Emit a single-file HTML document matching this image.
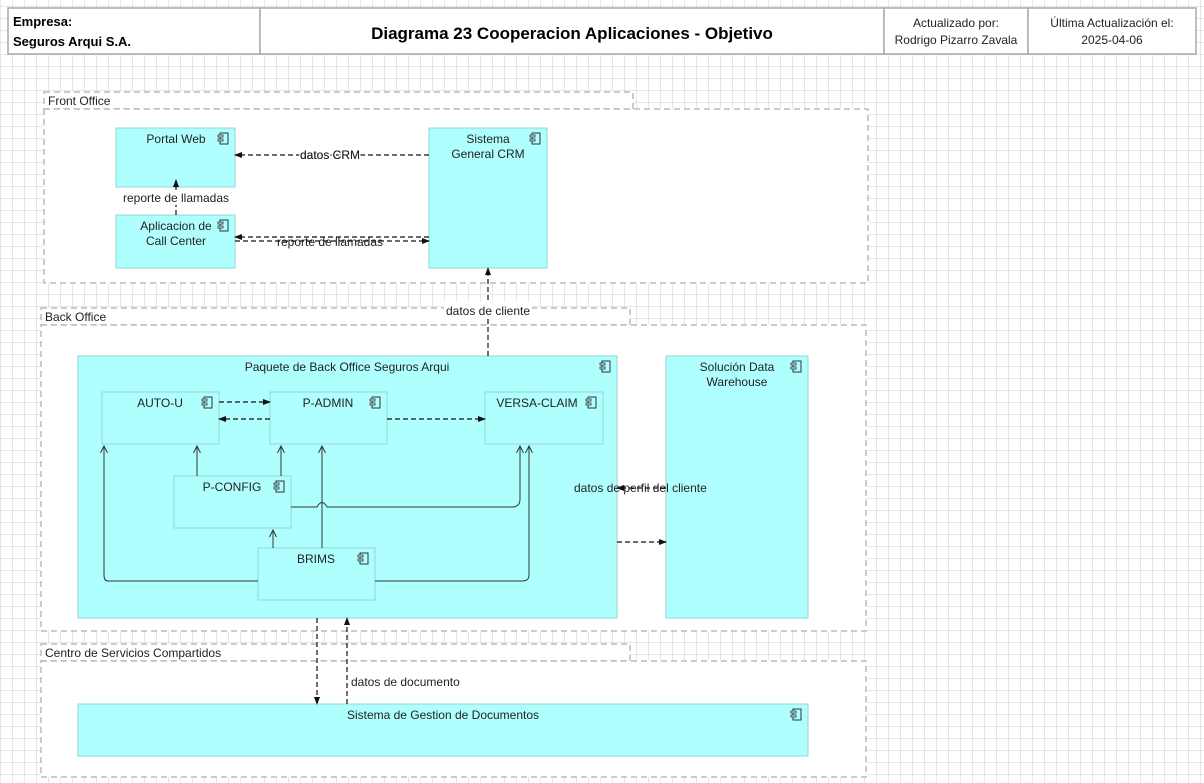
<!DOCTYPE html>
<html><head><meta charset="utf-8"><style>
html,body{margin:0;padding:0;background:#fff}
svg{display:block}
text{font-family:"Liberation Sans",sans-serif;font-size:12px;fill:#222}
</style></head><body>
<svg width="1204" height="783" xmlns="http://www.w3.org/2000/svg">
<defs>
<pattern id="g" x="0.5" y="6.5" width="12" height="12" patternUnits="userSpaceOnUse">
<path d="M0 0H12M0 0V12" stroke="#cfcfcf" stroke-width="1" fill="none"/>
</pattern>
<marker id="a" markerWidth="8" markerHeight="8" refX="7" refY="4" orient="auto" markerUnits="userSpaceOnUse"><path d="M0,1 L8,4 L0,7z" fill="#111"/></marker>
<marker id="o" markerWidth="8" markerHeight="8" refX="7" refY="4" orient="auto" markerUnits="userSpaceOnUse"><path d="M0,0.5 L7,4 L0,7.5" fill="none" stroke="#333"/></marker>
<g id="ic"><rect x="2" y="0" width="8" height="11" fill="none" stroke="#333"/><rect x="0" y="2" width="5" height="2" fill="#b0ffff" stroke="#333" stroke-width=".8"/><rect x="0" y="6" width="5" height="2" fill="#b0ffff" stroke="#333" stroke-width=".8"/></g>
</defs>
<rect width="1204" height="783" fill="url(#g)"/>
<!-- header -->
<g fill="#fff" stroke="#aaa" stroke-width="1.5">
<rect x="8" y="8" width="252" height="46"/><rect x="260" y="8" width="624" height="46"/>
<rect x="884" y="8" width="144" height="46"/><rect x="1028" y="8" width="168" height="46"/>
</g>
<text x="13" y="26" style="font-weight:bold;font-size:13px;fill:#000">Empresa:</text>
<text x="13" y="46" style="font-weight:bold;font-size:13px;fill:#000">Seguros Arqui S.A.</text>
<text x="572" y="39" text-anchor="middle" style="font-weight:bold;font-size:17px;fill:#000">Diagrama 23 Cooperacion Aplicaciones - Objetivo</text>
<text x="956" y="27" text-anchor="middle">Actualizado por:</text>
<text x="956" y="44" text-anchor="middle">Rodrigo Pizarro Zavala</text>
<text x="1112" y="27" text-anchor="middle">Última Actualización el:</text>
<text x="1112" y="44" text-anchor="middle">2025-04-06</text>
<!-- groups -->
<g fill="#fff" stroke="#bbb" stroke-width="1.5" stroke-dasharray="6,4">
<rect x="44" y="92" width="589" height="17"/><rect x="44" y="109" width="824" height="174"/>
<rect x="41" y="308" width="589" height="17"/><rect x="41" y="325" width="825" height="306"/>
<rect x="41" y="644" width="589" height="17"/><rect x="41" y="661" width="825" height="116"/>
</g>
<text x="48" y="105">Front Office</text>
<text x="45" y="321">Back Office</text>
<text x="45" y="657">Centro de Servicios Compartidos</text>
<!-- nodes -->
<g fill="#b0ffff" stroke="#8fd6d6" stroke-width="1">
<rect x="116" y="128" width="119" height="59"/><rect x="116" y="215" width="119" height="53"/>
<rect x="429" y="128" width="118" height="140"/>
<rect x="78" y="356" width="539" height="262"/>
<rect x="666" y="356" width="142" height="262"/>
<rect x="78" y="704" width="730" height="52"/>
<rect x="102" y="392" width="117" height="52"/><rect x="270" y="392" width="117" height="52"/>
<rect x="485" y="392" width="118" height="52"/><rect x="174" y="476" width="117" height="52"/>
<rect x="258" y="548" width="117" height="52"/>
</g>
<use href="#ic" x="218" y="133"/><use href="#ic" x="218" y="220"/><use href="#ic" x="530" y="133"/>
<use href="#ic" x="600" y="361"/><use href="#ic" x="791" y="361"/><use href="#ic" x="791" y="709"/>
<use href="#ic" x="202" y="397"/><use href="#ic" x="370" y="397"/><use href="#ic" x="586" y="397"/>
<use href="#ic" x="274" y="481"/><use href="#ic" x="358" y="553"/>
<g text-anchor="middle">
<text x="176" y="143">Portal Web</text>
<text x="176" y="230">Aplicacion de</text><text x="176" y="245">Call Center</text>
<text x="488" y="143">Sistema</text><text x="488" y="158">General CRM</text>
<text x="347" y="371">Paquete de Back Office Seguros Arqui</text>
<text x="737" y="371">Solución Data</text><text x="737" y="386">Warehouse</text>
<text x="443" y="719">Sistema de Gestion de Documentos</text>
<text x="160" y="407">AUTO-U</text><text x="328" y="407">P-ADMIN</text><text x="537" y="407">VERSA-CLAIM</text>
<text x="232" y="491">P-CONFIG</text><text x="316" y="563">BRIMS</text>
</g>
<!-- dashed flows -->
<g stroke="#111" stroke-width="1.2" fill="none" stroke-dasharray="5,3">
<path d="M429 155H235" marker-end="url(#a)"/>
<path d="M176 215V180" marker-end="url(#a)"/>
<path d="M429 237H235" marker-end="url(#a)"/>
<path d="M235 241H429" marker-end="url(#a)"/>
<path d="M488 356V268" marker-end="url(#a)"/>
<path d="M219 402H270" marker-end="url(#a)"/>
<path d="M270 419H219" marker-end="url(#a)"/>
<path d="M387 419H485" marker-end="url(#a)"/>
<path d="M666 488H617" marker-end="url(#a)"/>
<path d="M617 542H666" marker-end="url(#a)"/>
<path d="M317 618V704" marker-end="url(#a)"/>
<path d="M347 704V618" marker-end="url(#a)"/>
</g>
<!-- solid flows -->
<g stroke="#333" stroke-width="1" fill="none">
<path d="M197 476V446" marker-end="url(#o)"/>
<path d="M281 476V446" marker-end="url(#o)"/>
<path d="M322 548V446" marker-end="url(#o)"/>
<path d="M273 548V530" marker-end="url(#o)"/>
<path d="M291 507H317Q322 498 327 507H512Q520 507 520 499V446" marker-end="url(#o)"/>
<path d="M258 581H108Q104 581 104 575V446" marker-end="url(#o)"/>
<path d="M375 581H522Q529 581 529 575V446" marker-end="url(#o)"/>
</g>
<g style="paint-order:stroke" stroke="#fff" stroke-width="3">
<text x="330" y="159" text-anchor="middle" stroke="#fff">datos CRM</text>
</g>
<text x="330" y="159" text-anchor="middle">datos CRM</text>
<rect x="120" y="190" width="110" height="15" fill="#fff"/>
<text x="176" y="202" text-anchor="middle">reporte de llamadas</text>
<text x="330" y="246" text-anchor="middle">reporte de llamadas</text>
<rect x="444" y="302" width="88" height="15" fill="#fff"/>
<text x="488" y="315" text-anchor="middle">datos de cliente</text>
<text x="574" y="492">datos de perfil del cliente</text>
<text x="351" y="686">datos de documento</text>
</svg>
</body></html>
